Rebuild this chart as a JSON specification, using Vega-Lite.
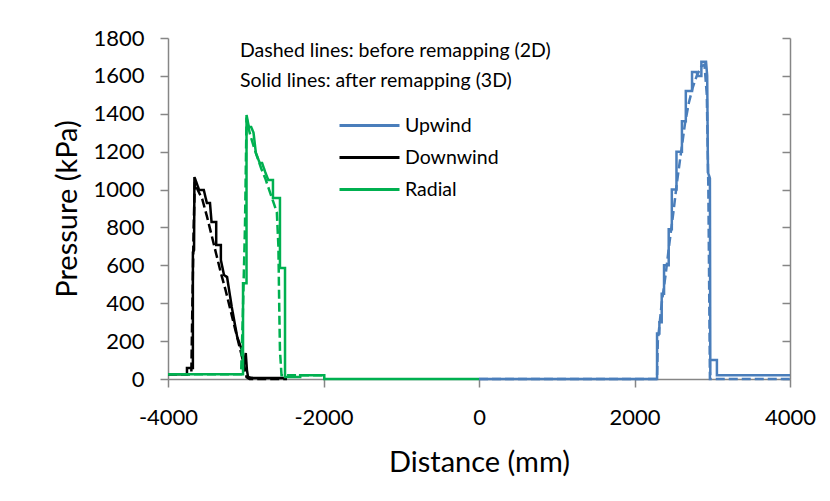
{
  "$schema": "https://vega.github.io/schema/vega-lite/v6.json",
  "width": 622,
  "height": 341,
  "autosize": "none",
  "padding": {"left": 168, "top": 38, "right": 40, "bottom": 122},
  "background": "white",
  "config": {"view": {"stroke": null}, "font": "Lato"},
  "title": {
    "text": ["Dashed lines: before remapping (2D)", "Solid lines: after remapping (3D)"],
    "anchor": "start", "frame": "group", "orient": "top", "offset": 0,
    "dx": 72, "dy": 64, "baseline": "top",
    "fontSize": 19.5, "fontWeight": "normal", "lineHeight": 30, "font": "Lato", "color": "#000000"
  },
  "data": {
    "values": [
      {"d": -4000, "p": 25, "loc": "Downwind", "m": "2D"},
      {"d": -3700, "p": 25, "loc": "Downwind", "m": "2D"},
      {"d": -3690, "p": 300, "loc": "Downwind", "m": "2D"},
      {"d": -3670, "p": 800, "loc": "Downwind", "m": "2D"},
      {"d": -3655, "p": 1040, "loc": "Downwind", "m": "2D"},
      {"d": -3620, "p": 1000, "loc": "Downwind", "m": "2D"},
      {"d": -3560, "p": 950, "loc": "Downwind", "m": "2D"},
      {"d": -3500, "p": 860, "loc": "Downwind", "m": "2D"},
      {"d": -3440, "p": 760, "loc": "Downwind", "m": "2D"},
      {"d": -3380, "p": 660, "loc": "Downwind", "m": "2D"},
      {"d": -3320, "p": 560, "loc": "Downwind", "m": "2D"},
      {"d": -3260, "p": 470, "loc": "Downwind", "m": "2D"},
      {"d": -3200, "p": 370, "loc": "Downwind", "m": "2D"},
      {"d": -3140, "p": 270, "loc": "Downwind", "m": "2D"},
      {"d": -3080, "p": 170, "loc": "Downwind", "m": "2D"},
      {"d": -3020, "p": 70, "loc": "Downwind", "m": "2D"},
      {"d": -2990, "p": 10, "loc": "Downwind", "m": "2D"},
      {"d": -2950, "p": 0, "loc": "Downwind", "m": "2D"},
      {"d": -2470, "p": 0, "loc": "Downwind", "m": "2D"},

      {"d": -4000, "p": 25, "loc": "Downwind", "m": "3D"},
      {"d": -3756, "p": 25, "loc": "Downwind", "m": "3D"},
      {"d": -3756, "p": 58, "loc": "Downwind", "m": "3D"},
      {"d": -3680, "p": 58, "loc": "Downwind", "m": "3D"},
      {"d": -3680, "p": 670, "loc": "Downwind", "m": "3D"},
      {"d": -3665, "p": 680, "loc": "Downwind", "m": "3D"},
      {"d": -3660, "p": 1066, "loc": "Downwind", "m": "3D"},
      {"d": -3600, "p": 998, "loc": "Downwind", "m": "3D"},
      {"d": -3540, "p": 998, "loc": "Downwind", "m": "3D"},
      {"d": -3500, "p": 929, "loc": "Downwind", "m": "3D"},
      {"d": -3460, "p": 929, "loc": "Downwind", "m": "3D"},
      {"d": -3440, "p": 829, "loc": "Downwind", "m": "3D"},
      {"d": -3380, "p": 829, "loc": "Downwind", "m": "3D"},
      {"d": -3380, "p": 707, "loc": "Downwind", "m": "3D"},
      {"d": -3320, "p": 707, "loc": "Downwind", "m": "3D"},
      {"d": -3320, "p": 628, "loc": "Downwind", "m": "3D"},
      {"d": -3280, "p": 549, "loc": "Downwind", "m": "3D"},
      {"d": -3240, "p": 538, "loc": "Downwind", "m": "3D"},
      {"d": -3180, "p": 380, "loc": "Downwind", "m": "3D"},
      {"d": -3110, "p": 222, "loc": "Downwind", "m": "3D"},
      {"d": -3050, "p": 153, "loc": "Downwind", "m": "3D"},
      {"d": -3030, "p": 60, "loc": "Downwind", "m": "3D"},
      {"d": -3000, "p": 137, "loc": "Downwind", "m": "3D"},
      {"d": -2985, "p": 47, "loc": "Downwind", "m": "3D"},
      {"d": -2970, "p": 10, "loc": "Downwind", "m": "3D"},
      {"d": -2900, "p": 5, "loc": "Downwind", "m": "3D"},
      {"d": -2470, "p": 5, "loc": "Downwind", "m": "3D"},

      {"d": -4000, "p": 25, "loc": "Radial", "m": "2D"},
      {"d": -3060, "p": 25, "loc": "Radial", "m": "2D"},
      {"d": -3040, "p": 300, "loc": "Radial", "m": "2D"},
      {"d": -3010, "p": 800, "loc": "Radial", "m": "2D"},
      {"d": -2990, "p": 1380, "loc": "Radial", "m": "2D"},
      {"d": -2950, "p": 1300, "loc": "Radial", "m": "2D"},
      {"d": -2900, "p": 1230, "loc": "Radial", "m": "2D"},
      {"d": -2850, "p": 1170, "loc": "Radial", "m": "2D"},
      {"d": -2800, "p": 1110, "loc": "Radial", "m": "2D"},
      {"d": -2750, "p": 1060, "loc": "Radial", "m": "2D"},
      {"d": -2700, "p": 1000, "loc": "Radial", "m": "2D"},
      {"d": -2650, "p": 940, "loc": "Radial", "m": "2D"},
      {"d": -2600, "p": 880, "loc": "Radial", "m": "2D"},
      {"d": -2580, "p": 700, "loc": "Radial", "m": "2D"},
      {"d": -2570, "p": 400, "loc": "Radial", "m": "2D"},
      {"d": -2560, "p": 150, "loc": "Radial", "m": "2D"},
      {"d": -2540, "p": 20, "loc": "Radial", "m": "2D"},
      {"d": -2000, "p": 20, "loc": "Radial", "m": "2D"},

      {"d": -4000, "p": 25, "loc": "Radial", "m": "3D"},
      {"d": -3035, "p": 25, "loc": "Radial", "m": "3D"},
      {"d": -3035, "p": 505, "loc": "Radial", "m": "3D"},
      {"d": -2990, "p": 505, "loc": "Radial", "m": "3D"},
      {"d": -2990, "p": 1394, "loc": "Radial", "m": "3D"},
      {"d": -2960, "p": 1330, "loc": "Radial", "m": "3D"},
      {"d": -2930, "p": 1330, "loc": "Radial", "m": "3D"},
      {"d": -2900, "p": 1300, "loc": "Radial", "m": "3D"},
      {"d": -2870, "p": 1193, "loc": "Radial", "m": "3D"},
      {"d": -2820, "p": 1140, "loc": "Radial", "m": "3D"},
      {"d": -2790, "p": 1140, "loc": "Radial", "m": "3D"},
      {"d": -2750, "p": 1093, "loc": "Radial", "m": "3D"},
      {"d": -2710, "p": 1050, "loc": "Radial", "m": "3D"},
      {"d": -2650, "p": 1050, "loc": "Radial", "m": "3D"},
      {"d": -2650, "p": 955, "loc": "Radial", "m": "3D"},
      {"d": -2560, "p": 955, "loc": "Radial", "m": "3D"},
      {"d": -2560, "p": 586, "loc": "Radial", "m": "3D"},
      {"d": -2495, "p": 586, "loc": "Radial", "m": "3D"},
      {"d": -2495, "p": 10, "loc": "Radial", "m": "3D"},
      {"d": -2300, "p": 10, "loc": "Radial", "m": "3D"},
      {"d": -2300, "p": 20, "loc": "Radial", "m": "3D"},
      {"d": -1990, "p": 20, "loc": "Radial", "m": "3D"},
      {"d": -1990, "p": 0, "loc": "Radial", "m": "3D"},
      {"d": 0, "p": 0, "loc": "Radial", "m": "3D"},

      {"d": 0, "p": 0, "loc": "Upwind", "m": "2D"},
      {"d": 2290, "p": 0, "loc": "Upwind", "m": "2D"},
      {"d": 2300, "p": 200, "loc": "Upwind", "m": "2D"},
      {"d": 2350, "p": 400, "loc": "Upwind", "m": "2D"},
      {"d": 2400, "p": 550, "loc": "Upwind", "m": "2D"},
      {"d": 2450, "p": 720, "loc": "Upwind", "m": "2D"},
      {"d": 2500, "p": 880, "loc": "Upwind", "m": "2D"},
      {"d": 2550, "p": 1050, "loc": "Upwind", "m": "2D"},
      {"d": 2600, "p": 1200, "loc": "Upwind", "m": "2D"},
      {"d": 2650, "p": 1350, "loc": "Upwind", "m": "2D"},
      {"d": 2700, "p": 1460, "loc": "Upwind", "m": "2D"},
      {"d": 2750, "p": 1540, "loc": "Upwind", "m": "2D"},
      {"d": 2800, "p": 1600, "loc": "Upwind", "m": "2D"},
      {"d": 2860, "p": 1650, "loc": "Upwind", "m": "2D"},
      {"d": 2900, "p": 1660, "loc": "Upwind", "m": "2D"},
      {"d": 2930, "p": 1500, "loc": "Upwind", "m": "2D"},
      {"d": 2950, "p": 1000, "loc": "Upwind", "m": "2D"},
      {"d": 2960, "p": 500, "loc": "Upwind", "m": "2D"},
      {"d": 2970, "p": 0, "loc": "Upwind", "m": "2D"},
      {"d": 4000, "p": 0, "loc": "Upwind", "m": "2D"},

      {"d": 0, "p": 0, "loc": "Upwind", "m": "3D"},
      {"d": 2290, "p": 0, "loc": "Upwind", "m": "3D"},
      {"d": 2290, "p": 240, "loc": "Upwind", "m": "3D"},
      {"d": 2320, "p": 240, "loc": "Upwind", "m": "3D"},
      {"d": 2320, "p": 300, "loc": "Upwind", "m": "3D"},
      {"d": 2350, "p": 300, "loc": "Upwind", "m": "3D"},
      {"d": 2350, "p": 450, "loc": "Upwind", "m": "3D"},
      {"d": 2380, "p": 450, "loc": "Upwind", "m": "3D"},
      {"d": 2380, "p": 600, "loc": "Upwind", "m": "3D"},
      {"d": 2440, "p": 600, "loc": "Upwind", "m": "3D"},
      {"d": 2440, "p": 790, "loc": "Upwind", "m": "3D"},
      {"d": 2480, "p": 790, "loc": "Upwind", "m": "3D"},
      {"d": 2480, "p": 1000, "loc": "Upwind", "m": "3D"},
      {"d": 2540, "p": 1000, "loc": "Upwind", "m": "3D"},
      {"d": 2540, "p": 1200, "loc": "Upwind", "m": "3D"},
      {"d": 2610, "p": 1200, "loc": "Upwind", "m": "3D"},
      {"d": 2610, "p": 1360, "loc": "Upwind", "m": "3D"},
      {"d": 2660, "p": 1360, "loc": "Upwind", "m": "3D"},
      {"d": 2660, "p": 1520, "loc": "Upwind", "m": "3D"},
      {"d": 2740, "p": 1520, "loc": "Upwind", "m": "3D"},
      {"d": 2740, "p": 1620, "loc": "Upwind", "m": "3D"},
      {"d": 2800, "p": 1620, "loc": "Upwind", "m": "3D"},
      {"d": 2810, "p": 1600, "loc": "Upwind", "m": "3D"},
      {"d": 2860, "p": 1600, "loc": "Upwind", "m": "3D"},
      {"d": 2860, "p": 1675, "loc": "Upwind", "m": "3D"},
      {"d": 2920, "p": 1675, "loc": "Upwind", "m": "3D"},
      {"d": 2935, "p": 1600, "loc": "Upwind", "m": "3D"},
      {"d": 2945, "p": 1090, "loc": "Upwind", "m": "3D"},
      {"d": 2970, "p": 1060, "loc": "Upwind", "m": "3D"},
      {"d": 2975, "p": 20, "loc": "Upwind", "m": "3D"},
      {"d": 2975, "p": 100, "loc": "Upwind", "m": "3D"},
      {"d": 3060, "p": 100, "loc": "Upwind", "m": "3D"},
      {"d": 3060, "p": 20, "loc": "Upwind", "m": "3D"},
      {"d": 4000, "p": 20, "loc": "Upwind", "m": "3D"}
    ]
  },
  "layer": [
    {
      "mark": {"type": "line", "strokeWidth": 2.5, "clip": false},
      "encoding": {
        "x": {
          "field": "d", "type": "quantitative",
          "scale": {"domain": [-4000, 4000], "nice": false, "zero": false},
          "axis": {
            "values": [-4000, -2000, 0, 2000, 4000], "grid": false, "labelExpr": "toString(datum.value)",
            "labelFlush": false, "labelOverlap": false,
            "title": "Distance (mm)", "titleFontSize": 29, "titleFontWeight": "normal", "titleFont": "Lato", "titleColor": "#000000",
            "titlePadding": 20,
            "labelFontSize": 22, "labelFont": "Lato", "labelColor": "#000000", "labelPadding": 20,
            "domainColor": "#868686", "domainWidth": 1.5, "tickColor": "#868686", "tickSize": 8, "tickWidth": 1.5
          }
        },
        "y": {
          "field": "p", "type": "quantitative",
          "scale": {"domain": [0, 1800], "nice": false, "zero": true},
          "axis": {
            "values": [0, 200, 400, 600, 800, 1000, 1200, 1400, 1600, 1800], "grid": false, "labelExpr": "toString(datum.value)",
            "labelFlush": false, "labelOverlap": false,
            "title": "Pressure (kPa)", "titleFontSize": 29, "titleFontWeight": "normal", "titleFont": "Lato", "titleColor": "#000000",
            "titlePadding": 10,
            "labelFontSize": 22, "labelFont": "Lato", "labelColor": "#000000", "labelPadding": 16,
            "domainColor": "#868686", "domainWidth": 1.5, "tickColor": "#868686", "tickSize": 8, "tickWidth": 1.5
          }
        },
        "color": {
          "field": "loc", "type": "nominal",
          "scale": {"domain": ["Upwind", "Downwind", "Radial"], "range": ["#4A7EBB", "#000000", "#00B050"]},
          "legend": {
            "orient": "none", "legendX": 190, "legendY": 76, "title": null,
            "symbolType": "M-3,0H3", "symbolSize": 400, "symbolStrokeWidth": 3,
            "labelFontSize": 19.5, "labelFont": "Lato", "labelColor": "#000000", "labelOffset": 24,
            "rowPadding": 11
          }
        },
        "strokeDash": {
          "field": "m", "type": "nominal",
          "scale": {"domain": ["3D", "2D"], "range": [[1, 0], [9, 4]]},
          "legend": null
        },
        "order": {"value": null}
      }
    },
    {
      "mark": {"type": "point", "opacity": 0},
      "encoding": {
        "x": {"field": "d", "type": "quantitative", "scale": {"domain": [-4000, 4000], "nice": false, "zero": false}},
        "y": {
          "field": "p", "type": "quantitative",
          "scale": {"domain": [0, 1800], "nice": false, "zero": true},
          "axis": {
            "orient": "right", "values": [0, 200, 400, 600, 800, 1000, 1200, 1400, 1600, 1800],
            "labels": false, "title": null, "grid": false,
            "domainColor": "#868686", "domainWidth": 1.5, "tickColor": "#868686", "tickSize": -8, "tickWidth": 1.5
          }
        }
      }
    }
  ],
  "resolve": {"axis": {"y": "independent"}}
}
